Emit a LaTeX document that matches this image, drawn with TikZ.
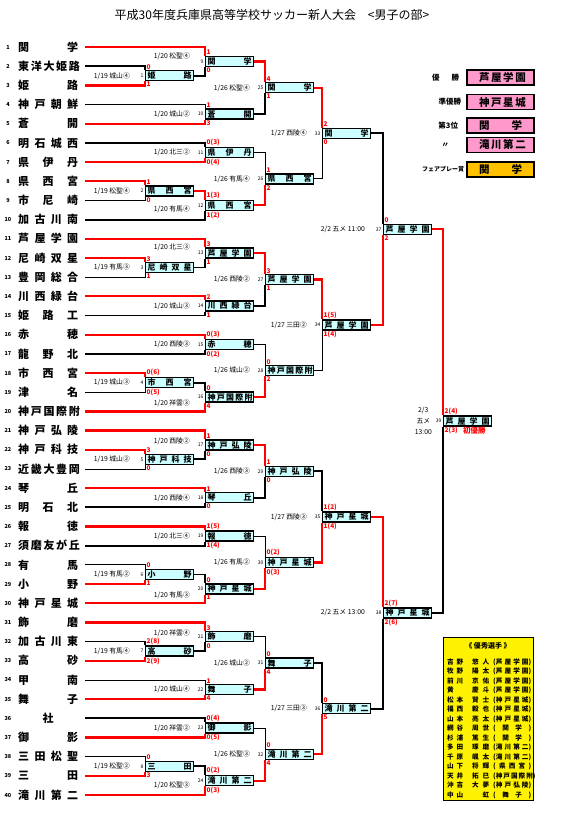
\documentclass[tikz,border=0pt]{standalone}
\usepackage{fontspec}
\setmainfont{Noto Sans CJK JP}
\usetikzlibrary{positioning}

\definecolor{boxcyan}{HTML}{CCFFFF}
\definecolor{prizepink}{HTML}{FF99CC}
\definecolor{prizegold}{HTML}{FFC000}

% spread the characters of a name over a fixed width
\newcommand\spr[2]{\makebox[#1][s]{#2}}

\tikzset{
  win/.style={red, line width=2.3pt},
  lose/.style={black, line width=0.8pt},
  losek/.style={black, line width=1.8pt},
  team/.style={anchor=west, inner xsep=7pt, inner ysep=0pt, font=\fontsize{11}{11}\selectfont\bfseries},
  tnum/.style={inner sep=0pt, font=\fontsize{5.5}{6}\selectfont\bfseries},
  mbox/.style={draw, line width=1.4pt, fill=boxcyan, anchor=west, minimum width=48pt,
    minimum height=10pt, inner sep=0pt, font=\fontsize{8}{8}\selectfont\bfseries},
  mnum/.style={inner sep=0pt, font=\fontsize{5}{5}\selectfont},
  mdate/.style={inner sep=0pt, align=center, font=\fontsize{6.8}{11}\selectfont},
  score/.style={inner sep=0.5pt, red, font=\fontsize{6.5}{6.5}\selectfont\bfseries},
  prize/.style={draw, line width=1.6pt, minimum width=67pt, minimum height=15pt,
    inner sep=0pt, font=\fontsize{10.5}{10.5}\selectfont\bfseries},
  prizelbl/.style={inner sep=0pt, font=\fontsize{7.5}{7.5}\selectfont\bfseries},
  prow/.style={anchor=west, inner sep=0pt, font=\fontsize{6.6}{6.6}\selectfont\bfseries},
}

% id, position, name, date, label shift, upper score, lower score
\newcommand\matchbox[7]{%
  \node[mbox] (m#1) at #2 {\spr{44pt}{#3}};
  \node[mnum, anchor=east] (n#1) at ([xshift=-1.5pt]m#1.west) {#1};
  \node[mdate, anchor=east] (d#1) at ([xshift=-15pt,#5]m#1.west) {#4};
  \node[score, anchor=south west] (sa#1) at ([xshift=1pt]m#1.north west) {#6};
  \node[score, anchor=north west] (sb#1) at ([xshift=1pt]m#1.south west) {#7};
}

\begin{document}
\begin{tikzpicture}[x=1pt,y=-1pt]
\useasboundingbox (0,0) rectangle (562,815);

\node[font=\fontsize{12}{12}\selectfont] (title) at (272,15)
  {平成30年度兵庫県高等学校サッカー新人大会\quad <男子の部>};

% teams
\foreach \i/\nm in {1/関 学,2/東 洋 大 姫 路,3/姫 路,4/神 戸 朝 鮮,5/蒼 開,
  6/明 石 城 西,7/県 伊 丹,8/県 西 宮,9/市 尼 崎,10/加 古 川 南,
  11/芦 屋 学 園,12/尼 崎 双 星,13/豊 岡 総 合,14/川 西 緑 台,15/姫 路 工,
  16/赤 穂,17/龍 野 北,18/市 西 宮,19/津 名,20/神 戸 国 際 附,
  21/神 戸 弘 陵,22/神 戸 科 技,23/近 畿 大 豊 岡,24/琴 丘,25/明 石 北,
  26/報 徳,27/須 磨 友 が 丘,28/有 馬,29/小 野,30/神 戸 星 城,
  31/飾 磨,32/加 古 川 東,33/高 砂,34/甲 南,35/舞 子,
  36/\hfil 社\hfil,37/御 影,38/三 田 松 聖,39/三 田,40/滝 川 第 二} {
  \node[tnum] (tn\i) at (8,{47+(\i-1)*19.18}) {\i};
  \node[team] (t\i) at (11,{47+(\i-1)*19.18}) {\spr{60pt}{\nm}};
}

% 1/19
\matchbox{1}{(145,75.77)}{姫 路}{1/19 城山④}{}{0}{1}
\matchbox{2}{(145,190.85)}{県 西 宮}{1/19 松聖④}{}{1}{0}
\matchbox{3}{(145,267.57)}{尼 崎 双 星}{1/19 有馬③}{}{3}{1}
\matchbox{4}{(145,382.65)}{市 西 宮}{1/19 城山③}{}{0(6)}{0(5)}
\matchbox{5}{(145,459.37)}{神 戸 科 技}{1/19 城山②}{}{3}{0}
\matchbox{6}{(145,574.45)}{小 野}{1/19 有馬②}{}{0}{1}
\matchbox{7}{(145,651.17)}{高 砂}{1/19 有馬④}{}{2(8)}{2(9)}
\matchbox{8}{(145,766.25)}{三 田}{1/19 松聖②}{}{0}{3}

% 1/20
\matchbox{9}{(205,61.39)}{関 学}{1/20 松聖④}{yshift=5pt}{1}{0}
\matchbox{10}{(205,114.13)}{蒼 開}{1/20 城山②}{}{1}{3}
\matchbox{11}{(205,152.49)}{県 伊 丹}{1/20 北三②}{}{0(3)}{0(4)}
\matchbox{12}{(205,205.24)}{県 西 宮}{1/20 有馬④}{yshift=-4pt}{1(3)}{1(2)}
\matchbox{13}{(205,253.19)}{芦 屋 学 園}{1/20 北三③}{yshift=6pt}{3}{1}
\matchbox{14}{(205,305.93)}{川 西 緑 台}{1/20 城山③}{}{2}{1}
\matchbox{15}{(205,344.29)}{赤 穂}{1/20 西陵③}{}{0(3)}{0(2)}
\matchbox{16}{(205,397.04)}{神 戸 国 際 附}{1/20 祥雲③}{yshift=-6pt}{0}{4}
\matchbox{17}{(205,444.99)}{神 戸 弘 陵}{1/20 西陵②}{yshift=4pt}{1}{0}
\matchbox{18}{(205,497.73)}{琴 丘}{1/20 西陵④}{}{1}{0}
\matchbox{19}{(205,536.09)}{報 徳}{1/20 北三④}{}{1(5)}{1(4)}
\matchbox{20}{(205,588.84)}{神 戸 星 城}{1/20 有馬③}{yshift=-6pt}{0}{1}
\matchbox{21}{(205,636.79)}{飾 磨}{1/20 祥雲④}{yshift=4pt}{3}{0}
\matchbox{22}{(205,689.53)}{舞 子}{1/20 城山④}{}{1}{4}
\matchbox{23}{(205,727.89)}{御 影}{1/20 祥雲②}{}{0(4)}{0(5)}
\matchbox{24}{(205,780.64)}{滝 川 第 二}{1/20 松聖③}{yshift=-5pt}{0(2)}{0(3)}

% 1/26
\matchbox{25}{(265,87.76)}{関 学}{1/26 松聖④}{}{4}{1}
\matchbox{26}{(265,178.87)}{県 西 宮}{1/26 有馬④}{}{1}{2}
\matchbox{27}{(265,279.56)}{芦 屋 学 園}{1/26 西陵②}{}{3}{1}
\matchbox{28}{(265,370.67)}{神 戸 国 際 附}{1/26 城山②}{}{0}{2}
\matchbox{29}{(265,471.36)}{神 戸 弘 陵}{1/26 西陵③}{}{1}{0}
\matchbox{30}{(265,562.47)}{神 戸 星 城}{1/26 有馬②}{}{0(2)}{0(3)}
\matchbox{31}{(265,663.16)}{舞 子}{1/26 城山②}{}{0}{4}
\matchbox{32}{(265,754.27)}{滝 川 第 二}{1/26 松聖③}{}{0}{4}

% 1/27
\matchbox{33}{(322,133.32)}{関 学}{1/27 西陵④}{}{2}{0}
\matchbox{34}{(322,325.12)}{芦 屋 学 園}{1/27 三田②}{}{1(5)}{1(4)}
\matchbox{35}{(322,516.92)}{神 戸 星 城}{1/27 西陵③}{}{1(2)}{1(4)}
\matchbox{36}{(322,708.72)}{滝 川 第 二}{1/27 三田③}{}{0}{5}

% 2/2, 2/3
\matchbox{37}{(383,229.22)}{芦 屋 学 園}{2/2 五メ 11:00}{xshift=-3pt}{0}{2}
\matchbox{38}{(383,612.82)}{神 戸 星 城}{2/2 五メ 13:00}{xshift=-3pt}{2(7)}{2(6)}
\matchbox{39}{(443,421.02)}{芦 屋 学 園}{2/3\\五メ\\13:00}{xshift=4pt}{2(4)}{2(3)}
\node[score, font=\fontsize{7.5}{7.5}\selectfont\bfseries, right=4pt of sb39] (champ) {初優勝};

% team lines
\foreach \ti/\mi/\side/\st in {
  1/9/north west/win, 2/1/north west/losek, 3/1/south west/win,
  4/10/north west/lose, 5/10/south west/win, 6/11/north west/losek, 7/11/south west/win,
  8/2/north west/win, 9/2/south west/lose, 10/12/south west/losek,
  11/13/north west/win, 12/3/north west/win, 13/3/south west/lose,
  14/14/north west/win, 15/14/south west/losek, 16/15/north west/win, 17/15/south west/losek,
  18/4/north west/win, 19/4/south west/lose, 20/16/south west/win,
  21/17/north west/win, 22/5/north west/win, 23/5/south west/lose,
  24/18/north west/win, 25/18/south west/losek, 26/19/north west/win, 27/19/south west/losek,
  28/6/north west/lose, 29/6/south west/win, 30/20/south west/win,
  31/21/north west/win, 32/7/north west/losek, 33/7/south west/win,
  34/22/north west/lose, 35/22/south west/win, 36/23/north west/losek, 37/23/south west/win,
  38/8/north west/lose, 39/8/south west/win, 40/24/south west/win}
  \draw[\st] (t\ti.east) -| (m\mi.\side);

% box to box
\foreach \ma/\mb/\side/\st in {
  1/9/south west/losek, 2/12/north west/win, 3/13/south west/losek, 4/16/north west/losek,
  5/17/south west/losek, 6/20/north west/losek, 7/21/south west/losek, 8/24/north west/losek,
  9/25/north west/win, 10/25/south west/losek, 11/26/north west/lose, 12/26/south west/win,
  13/27/north west/win, 14/27/south west/losek, 15/28/north west/lose, 16/28/south west/win,
  17/29/north west/win, 18/29/south west/losek, 19/30/north west/lose, 20/30/south west/win,
  21/31/north west/lose, 22/31/south west/win, 23/32/north west/lose, 24/32/south west/win,
  25/33/north west/win, 26/33/south west/lose, 27/34/north west/win, 28/34/south west/lose,
  29/35/north west/losek, 30/35/south west/win, 31/36/north west/losek, 32/36/south west/win,
  33/37/north west/losek, 34/37/south west/win, 35/38/north west/win, 36/38/south west/losek,
  37/39/north west/win, 38/39/south west/losek}
  \draw[\st] (m\ma.east) -| (m\mb.\side);

% results
\node[prize, fill=prizepink] (w1) at (500.5,77.5) {\spr{43pt}{芦 屋 学 園}};
\node[prize, fill=prizepink] (w2) at (500.5,102) {\spr{43pt}{神 戸 星 城}};
\node[prize, fill=prizepink] (w3) at (500.5,125.5) {\spr{43pt}{関 学}};
\node[prize, fill=prizepink] (w4) at (500.5,145) {\spr{43pt}{滝 川 第 二}};
\node[prize, fill=prizegold] (w5) at (500.5,169.5) {\spr{43pt}{関 学}};
\node[prizelbl, left=7pt of w1] (pl1) {\spr{27pt}{優 勝}};
\node[prizelbl, left=5pt of w2] (pl2) {準優勝};
\node[prizelbl, left=8pt of w3] (pl3) {第3位};
\node[prizelbl, left=17pt of w4] (pl4) {〃};
\node[prizelbl, font=\fontsize{6}{6}\selectfont\bfseries, left=2pt of w5] (pl5) {フェアプレー賞};

% best players
\node[draw, line width=1pt, fill=yellow, anchor=north west, minimum width=90pt,
  minimum height=163pt] (best) at (443,637) {};
\node[font=\fontsize{7}{7}\selectfont\bfseries] (besttitle) at (488,646) {《\ 優秀選手\ 》};
\foreach \k/\sn/\gn/\tm in {0/吉 野/悠 人/(芦 屋 学 園),1/牧 野/陽 太/(芦 屋 学 園),
  2/前 川/京 佑/(芦 屋 学 園),3/黄\hfil/慶 斗/(芦 屋 学 園),4/松 本/賢 士/(神 戸 星 城),
  5/福 西/毅 也/(神 戸 星 城),6/山 本/亮 太/(神 戸 星 城),7/網 谷/周 世/( 関 学 ),
  8/杉 浦/篤 生/( 関 学 ),9/多 田/琢 磨/(滝 川 第 二),10/千 原/颯 太/(滝 川 第 二),
  11/山 下/将 輝/( 県 西 宮 ),12/天 井/拓 巳/(神 戸 国 際 附),13/沖 吉/大 夢/(神 戸 弘 陵),
  14/中 山/\hfil 虹/( 舞 子 )}
  \node[prow] (p\k) at (447,{662+\k*9.5})
    {\spr{16pt}{\sn}\hspace{9pt}\spr{17pt}{\gn}\hspace{4pt}\spr{38pt}{\tm}};
\end{tikzpicture}
\end{document}
